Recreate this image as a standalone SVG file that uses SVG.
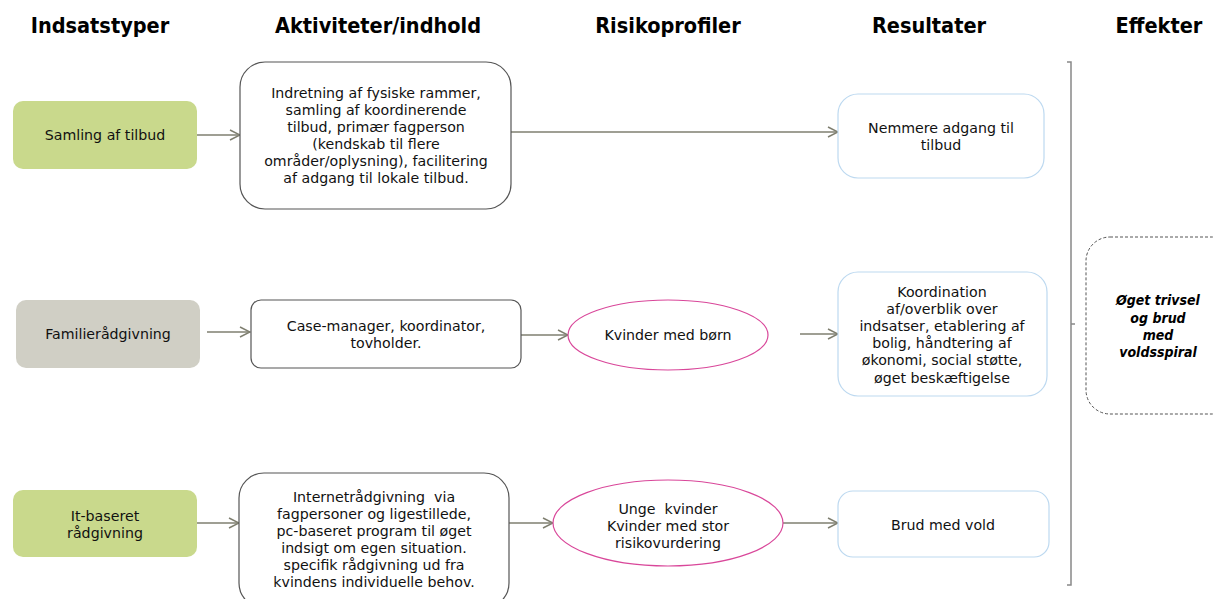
<svg xmlns="http://www.w3.org/2000/svg" width="1214" height="599" viewBox="0 0 1214 599">
<style>
.h{font-family:"DejaVu Sans Condensed","DejaVu Sans",sans-serif;font-weight:bold;font-size:21.5px;fill:#000;text-anchor:middle}
.t{font-family:"DejaVu Sans",Verdana,sans-serif;font-size:14.2px;fill:#111;text-anchor:middle;white-space:pre}
.e{font-family:"DejaVu Sans Condensed","DejaVu Sans",sans-serif;font-size:14px;font-weight:bold;font-style:italic;fill:#000;text-anchor:middle}
.green{fill:#c9d98c;stroke:none}
.gray{fill:#d0cfc5;stroke:none}
.act{fill:#fff;stroke:#555;stroke-width:1.2}
.res{fill:#fff;stroke:#bdd9f0;stroke-width:1.2}
.risk{fill:#fff;stroke:#d9479a;stroke-width:1.2}
.c{stroke:#7f7f70;stroke-width:1.5;fill:none;marker-end:url(#arr)}
</style>
<defs>
<marker id="arr" viewBox="0 0 12 12" refX="11" refY="6" markerWidth="12" markerHeight="12" markerUnits="userSpaceOnUse" orient="auto">
<path d="M1,1 L11,6 L1,11" fill="none" stroke="#7f7f70" stroke-width="1.5"/>
</marker>
</defs>
<rect width="1214" height="599" fill="#fff"/>
<g id="headers">
<text class="h" x="100" y="33">Indsatstyper</text>
<text class="h" x="378" y="33">Aktiviteter/indhold</text>
<text class="h" x="668" y="33">Risikoprofiler</text>
<text class="h" x="929" y="33">Resultater</text>
<text class="h" x="1159" y="33">Effekter</text>
</g>
<g id="connectors">
<line class="c" x1="197" y1="135" x2="240" y2="135"/>
<line class="c" x1="511" y1="132" x2="838" y2="132"/>
<line class="c" x1="207" y1="332" x2="250" y2="332"/>
<line class="c" x1="521" y1="335" x2="568" y2="335"/>
<line class="c" x1="800" y1="334" x2="838" y2="334"/>
<line class="c" x1="197" y1="523" x2="239" y2="523"/>
<line class="c" x1="509" y1="523" x2="553" y2="523"/>
<line class="c" x1="783" y1="523" x2="838" y2="523"/>
</g>
<g id="n-samling">
<rect class="green" x="13" y="101" width="184" height="68" rx="10"/>
<text class="t" x="105" y="140">Samling af tilbud</text>
</g>
<g id="n-act1">
<rect class="act" x="240" y="62" width="271" height="147" rx="25"/>
<text class="t" x="376" y="98">Indretning af fysiske rammer,</text>
<text class="t" x="376" y="115">samling af koordinerende</text>
<text class="t" x="376" y="132">tilbud, primær fagperson</text>
<text class="t" x="376" y="149">(kendskab til flere</text>
<text class="t" x="376" y="166">områder/oplysning), facilitering</text>
<text class="t" x="376" y="183">af adgang til lokale tilbud.</text>
</g>
<g id="n-res1">
<rect class="res" x="838" y="94" width="206" height="84" rx="20"/>
<text class="t" x="941" y="133">Nemmere adgang til</text>
<text class="t" x="941" y="150">tilbud</text>
</g>
<g id="n-familie">
<rect class="gray" x="16" y="300" width="184" height="68" rx="10"/>
<text class="t" x="108" y="339">Familierådgivning</text>
</g>
<g id="n-act2">
<rect class="act" x="251" y="300" width="270" height="68" rx="10"/>
<text class="t" x="386" y="331">Case-manager, koordinator,</text>
<text class="t" x="386" y="348">tovholder.</text>
</g>
<g id="n-risk2">
<ellipse class="risk" cx="668" cy="335" rx="100" ry="35"/>
<text class="t" x="668" y="340">Kvinder med børn</text>
</g>
<g id="n-res2">
<rect class="res" x="838" y="272" width="209" height="124" rx="20"/>
<text class="t" x="942" y="297">Koordination</text>
<text class="t" x="942" y="314">af/overblik over</text>
<text class="t" x="942" y="331">indsatser, etablering af</text>
<text class="t" x="942" y="348">bolig, håndtering af</text>
<text class="t" x="942" y="365">økonomi, social støtte,</text>
<text class="t" x="942" y="383">øget beskæftigelse</text>
</g>
<g id="n-it">
<rect class="green" x="13" y="490" width="184" height="67" rx="10"/>
<text class="t" x="105" y="521">It-baseret</text>
<text class="t" x="105" y="538">rådgivning</text>
</g>
<g id="n-act3">
<rect class="act" x="239" y="473" width="270" height="135" rx="25"/>
<text class="t" x="374" y="502">Internetrådgivning  via</text>
<text class="t" x="374" y="519">fagpersoner og ligestillede,</text>
<text class="t" x="374" y="536">pc-baseret program til øget</text>
<text class="t" x="374" y="553">indsigt om egen situation.</text>
<text class="t" x="374" y="570">specifik rådgivning ud fra</text>
<text class="t" x="374" y="587">kvindens individuelle behov.</text>
</g>
<g id="n-risk3">
<ellipse class="risk" cx="668" cy="523" rx="115" ry="43"/>
<text class="t" x="668" y="514">Unge  kvinder</text>
<text class="t" x="668" y="531">Kvinder med stor</text>
<text class="t" x="668" y="548">risikovurdering</text>
</g>
<g id="n-res3">
<rect class="res" x="838" y="491" width="211" height="66" rx="15"/>
<text class="t" x="943" y="530">Brud med vold</text>
</g>
<g id="bracket">
<path d="M1067,62 H1071 V585 H1067 M1071,324 H1075" fill="none" stroke="#888" stroke-width="1.5"/>
</g>
<g id="n-effekt">
<rect x="1086" y="237" width="150" height="177" rx="24" fill="#fff" stroke="#555" stroke-width="1" stroke-dasharray="3,2"/>
<text class="e" x="1158" y="305">Øget trivsel</text>
<text class="e" x="1158" y="323">og brud</text>
<text class="e" x="1158" y="340">med</text>
<text class="e" x="1158" y="357">voldsspiral</text>
</g>
</svg>
